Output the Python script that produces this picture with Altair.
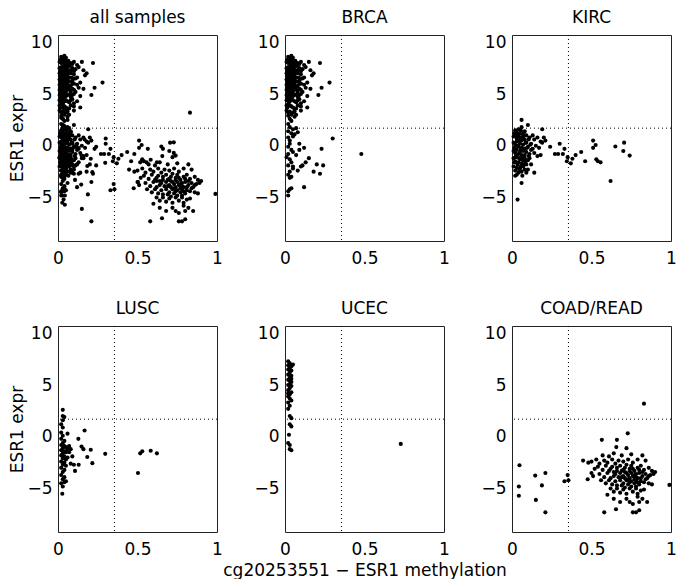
import altair as alt
import pandas as pd

# ---- data (methylation x, expression y) ----
brca = [
    (0.02, 8.6), (0.03, 8.5), (0.04, 8.7), (0.05, 8.5),
    (0.01, 8.1), (0.02, 8.0), (0.03, 8.2), (0.04, 8.0), (0.05, 8.1), (0.06, 7.9), (0.08, 8.0), (0.10, 8.1), (0.12, 7.8), (0.15, 8.1),
    (0.01, 7.5), (0.02, 7.6), (0.03, 7.4), (0.04, 7.7), (0.05, 7.5), (0.06, 7.6), (0.07, 7.3), (0.09, 7.5), (0.11, 7.4), (0.13, 7.6), (0.16, 7.3), (0.18, 7.0),
    (0.01, 7.0), (0.02, 6.9), (0.03, 7.1), (0.04, 6.8), (0.05, 7.0), (0.06, 6.7), (0.08, 7.0), (0.10, 6.9), (0.12, 6.6), (0.17, 6.8),
    (0.01, 6.4), (0.02, 6.6), (0.03, 6.3), (0.04, 6.5), (0.05, 6.2), (0.06, 6.4), (0.07, 6.6), (0.09, 6.3), (0.11, 6.5), (0.14, 6.1),
    (0.01, 5.9), (0.02, 6.0), (0.03, 5.8), (0.04, 6.1), (0.05, 5.7), (0.06, 5.9), (0.08, 5.8), (0.10, 6.0), (0.13, 5.6),
    (0.01, 5.4), (0.02, 5.5), (0.03, 5.3), (0.04, 5.6), (0.05, 5.2), (0.07, 5.4), (0.09, 5.5), (0.11, 5.2), (0.16, 5.5),
    (0.01, 4.9), (0.02, 5.0), (0.03, 4.8), (0.04, 5.1), (0.06, 4.9), (0.08, 4.7), (0.10, 5.0), (0.14, 4.8),
    (0.01, 4.4), (0.02, 4.5), (0.03, 4.3), (0.05, 4.4), (0.07, 4.2), (0.09, 4.5), (0.12, 4.3),
    (0.01, 3.9), (0.02, 4.0), (0.04, 3.8), (0.06, 3.6), (0.08, 3.9), (0.14, 3.7),
    (0.01, 3.4), (0.03, 3.3), (0.05, 3.2), (0.07, 3.0), (0.10, 3.4),
    (0.02, 2.9), (0.03, 2.6), (0.04, 2.4), (0.06, 2.8),
    (0.02, 2.1), (0.03, 1.8), (0.05, 1.6), (0.02, 1.4), (0.04, 1.2), (0.06, 1.1), (0.08, 1.3), (0.07, 1.7),
    (0.02, 0.8), (0.03, 0.5), (0.05, 0.9), (0.03, 0.2), (0.02, -0.1), (0.04, -0.4), (0.05, -0.6), (0.02, -0.8), (0.09, 0.2),
    (0.01, -1.1), (0.03, -1.3), (0.04, -1.6), (0.02, -1.9), (0.05, -2.2), (0.03, -2.5), (0.02, -2.8), (0.03, -3.1), (0.04, -3.0), (0.05, -2.0),
    (0.02, -4.4), (0.03, -4.2), (0.04, -4.1), (0.02, -4.8),
    (0.07, -0.9), (0.08, -2.4), (0.10, -2.0), (0.11, -1.9), (0.09, -0.4), (0.12, -0.2), (0.13, -1.6), (0.15, -1.2),
    (0.20, -1.8), (0.24, -1.9), (0.18, -2.5), (0.22, -2.7), (0.12, -4.0), (0.23, -0.3), (0.30, 0.7), (0.48, -0.8),
    (0.22, 8.0), (0.28, 6.1), (0.23, 5.6), (0.21, 4.9),
    (0.015, 8.3), (0.025, 8.35), (0.035, 7.85), (0.045, 8.3), (0.055, 7.7), (0.065, 8.2), (0.075, 7.7), (0.09, 7.9),
    (0.015, 7.25), (0.025, 7.2), (0.035, 7.6), (0.045, 7.3), (0.055, 7.25), (0.065, 7.0), (0.085, 7.3), (0.10, 7.2),
    (0.015, 6.7), (0.025, 6.25), (0.035, 6.9), (0.045, 6.7), (0.055, 6.5), (0.07, 6.2), (0.085, 6.6), (0.10, 6.5),
    (0.015, 6.2), (0.025, 5.75), (0.035, 6.05), (0.045, 5.9), (0.055, 6.0), (0.07, 5.7), (0.09, 6.0), (0.12, 5.9),
    (0.015, 5.65), (0.025, 5.25), (0.035, 5.55), (0.045, 5.35), (0.06, 5.5), (0.08, 5.2), (0.10, 5.4),
    (0.015, 5.1), (0.025, 4.7), (0.035, 5.05), (0.05, 4.8), (0.07, 4.95), (0.09, 4.9),
    (0.015, 4.6), (0.025, 4.2), (0.04, 4.6), (0.06, 4.3), (0.08, 4.4), (0.10, 4.1),
    (0.015, 3.7), (0.03, 3.9), (0.05, 3.7), (0.07, 3.6), (0.10, 3.8), (0.02, 3.2), (0.04, 3.0), (0.06, 3.3),
]

kirc = [
    (0.02, 1.5), (0.03, 1.3), (0.04, 1.6), (0.05, 1.2), (0.06, 1.8), (0.06, 2.5), (0.08, 1.4), (0.10, 2.0), (0.19, 1.6), (0.07, 1.1),
    (0.01, 0.9), (0.02, 1.0), (0.03, 0.7), (0.04, 1.0), (0.05, 0.8), (0.06, 0.5), (0.07, 0.9), (0.08, 0.6), (0.09, 1.0), (0.11, 0.8),
    (0.13, 1.0), (0.14, 0.6), (0.16, 0.8), (0.20, 0.8), (0.21, 0.5), (0.18, 0.4),
    (0.01, 0.3), (0.02, 0.1), (0.03, 0.4), (0.04, -0.1), (0.05, 0.2), (0.06, -0.2), (0.07, 0.1), (0.08, -0.3), (0.09, 0.3), (0.10, -0.1),
    (0.12, 0.2), (0.13, -0.3), (0.15, 0.0), (0.17, -0.2), (0.19, 0.3), (0.24, -0.1), (0.30, 0.2),
    (0.01, -0.5), (0.02, -0.7), (0.03, -0.4), (0.04, -0.8), (0.05, -0.6), (0.06, -0.9), (0.07, -0.5), (0.08, -0.9), (0.09, -0.6),
    (0.11, -0.8), (0.12, -0.4), (0.14, -0.7), (0.16, -1.0), (0.18, -0.9), (0.27, -0.8), (0.29, -0.8),
    (0.01, -1.2), (0.02, -1.5), (0.03, -1.1), (0.04, -1.6), (0.05, -1.3), (0.06, -1.7), (0.07, -1.4), (0.08, -1.2), (0.09, -1.8),
    (0.10, -1.4), (0.12, -1.8), (0.11, -1.2),
    (0.01, -2.0), (0.02, -2.4), (0.03, -2.1), (0.04, -2.6), (0.05, -2.2), (0.06, -2.5), (0.07, -2.0), (0.08, -2.3), (0.10, -2.3),
    (0.14, -2.6), (0.02, -2.9), (0.03, -2.8),
    (0.06, -3.6), (0.035, -5.2), (0.33, -0.3), (0.32, -0.8), (0.35, -1.1), (0.345, -1.5), (0.37, -1.7), (0.38, -1.25), (0.40, -0.9),
    (0.435, -0.6), (0.46, -1.5), (0.51, 0.5), (0.51, -0.2), (0.526, 0.07), (0.53, -1.3), (0.54, -1.5), (0.557, -1.6), (0.65, -0.07),
    (0.62, -3.4), (0.705, 0.3), (0.70, -0.5), (0.74, -0.95),
    (0.015, 1.2), (0.035, 1.1), (0.055, 1.5), (0.075, 1.3), (0.045, 0.5), (0.065, 0.8), (0.085, 0.3), (0.105, 0.6),
    (0.015, -0.2), (0.035, 0.0), (0.055, -0.4), (0.075, -0.3), (0.095, -0.2), (0.115, 0.1), (0.025, -1.0), (0.045, -1.2),
    (0.065, -1.1), (0.085, -1.5), (0.105, -1.0), (0.035, -1.8), (0.055, -2.0), (0.075, -1.8), (0.015, -1.6), (0.045, -2.3),
    (0.065, -2.9), (0.09, -2.6),
]

lusc = [
    (0.03, 2.6), (0.03, 2.0), (0.04, 1.9), (0.03, 1.6), (0.02, 1.2), (0.03, 0.9), (0.02, 0.4), (0.03, 0.1), (0.02, -0.2), (0.04, -0.4),
    (0.03, -0.6), (0.02, -0.8), (0.04, -0.9), (0.03, -1.1), (0.05, -1.0), (0.02, -1.3), (0.04, -1.4), (0.03, -1.6), (0.05, -1.5),
    (0.02, -1.8), (0.04, -1.9), (0.03, -2.1), (0.05, -2.2), (0.02, -2.4), (0.04, -2.5), (0.03, -2.7), (0.05, -2.8), (0.02, -3.0),
    (0.04, -3.2), (0.03, -3.4), (0.02, -3.7), (0.04, -3.9), (0.03, -4.1), (0.02, -4.5), (0.04, -4.4), (0.03, -4.8), (0.05, -4.3),
    (0.027, -5.5), (0.06, 0.3), (0.167, 0.6), (0.128, -0.2), (0.148, -0.95), (0.16, -1.2), (0.206, -1.25), (0.184, -1.95),
    (0.216, -2.55), (0.297, -1.65), (0.13, -2.7), (0.107, -3.3), (0.10, -2.7), (0.09, -1.9), (0.08, -1.2), (0.07, -1.5),
    (0.06, -2.0), (0.08, -2.6), (0.07, -0.9), (0.06, -1.2), (0.503, -3.5), (0.517, -1.6), (0.53, -1.4), (0.583, -1.35), (0.622, -1.6),
]

ucec = [
    (0.02, 7.3), (0.03, 7.1), (0.02, 6.9), (0.05, 6.97), (0.03, 6.7), (0.02, 6.5), (0.04, 6.4), (0.03, 6.2), (0.02, 6.0), (0.04, 5.9),
    (0.03, 5.7), (0.02, 5.5), (0.04, 5.3), (0.03, 5.1), (0.02, 5.0), (0.04, 4.9), (0.03, 4.7), (0.02, 4.5), (0.04, 4.3), (0.03, 4.1),
    (0.02, 3.9), (0.03, 3.7), (0.04, 3.5), (0.02, 3.3), (0.03, 3.0), (0.02, 2.7), (0.03, 2.0), (0.04, 1.8), (0.03, 1.2), (0.04, 1.0),
    (0.025, 0.2), (0.02, -0.6), (0.03, -0.8), (0.03, -1.2), (0.04, -1.3), (0.728, -0.69), (0.04, 5.6), (0.04, 6.8), (0.02, 4.2), (0.03, 5.4),
]

coad = [
    (0.565, -0.3), (0.66, -0.3), (0.656, -1.0), (0.728, 0.33), (0.72, -1.1), (0.82, -1.8), (0.57, -1.8), (0.61, -1.9), (0.75, -1.7),
    (0.64, -1.6), (0.69, -1.8),
    (0.447, -2.3), (0.48, -2.5), (0.50, -2.4), (0.53, -2.2), (0.55, -2.6), (0.58, -2.3), (0.60, -2.5), (0.63, -2.2), (0.65, -2.6),
    (0.67, -2.3), (0.70, -2.4), (0.73, -2.2), (0.76, -2.5), (0.79, -2.2), (0.84, -2.3),
    (0.50, -3.5), (0.52, -3.1), (0.54, -2.9), (0.57, -3.2), (0.59, -2.8), (0.61, -3.3), (0.63, -2.9), (0.64, -3.4), (0.66, -3.0),
    (0.68, -2.8), (0.69, -3.3), (0.71, -3.0), (0.72, -2.7), (0.74, -3.1), (0.75, -2.8), (0.77, -3.3), (0.79, -3.0), (0.81, -2.8),
    (0.83, -3.2), (0.86, -3.0), (0.88, -3.3), (0.90, -3.4),
    (0.51, -3.8), (0.55, -3.6), (0.58, -3.9), (0.60, -3.5), (0.62, -4.0), (0.65, -3.6), (0.67, -3.9), (0.68, -3.5), (0.70, -3.8),
    (0.71, -3.4), (0.73, -3.7), (0.74, -4.0), (0.75, -3.5), (0.76, -3.8), (0.78, -3.6), (0.79, -4.0), (0.80, -3.5), (0.82, -3.8),
    (0.84, -3.6), (0.85, -4.0), (0.87, -3.7), (0.89, -3.6),
    (0.476, -4.1), (0.56, -4.2), (0.59, -4.5), (0.61, -4.2), (0.63, -4.6), (0.65, -4.3), (0.66, -4.7), (0.68, -4.2), (0.70, -4.5),
    (0.72, -4.2), (0.73, -4.6), (0.75, -4.3), (0.77, -4.5), (0.78, -4.2), (0.80, -4.6), (0.81, -4.3), (0.83, -4.4), (0.86, -4.5),
    (0.88, -4.6),
    (0.60, -5.6), (0.62, -5.0), (0.64, -5.3), (0.66, -5.0), (0.68, -5.4), (0.70, -5.1), (0.72, -5.5), (0.74, -5.0), (0.76, -5.3),
    (0.78, -5.0), (0.79, -5.5), (0.81, -5.2), (0.83, -5.1),
    (0.64, -6.0), (0.68, -6.3), (0.72, -6.0), (0.74, -6.3), (0.76, -6.5), (0.80, -6.3), (0.82, -6.0), (0.85, -6.3), (0.79, -5.8),
    (0.58, -7.3), (0.654, -7.0), (0.76, -7.3), (0.78, -7.3), (0.80, -7.1),
    (0.047, -2.75), (0.043, -4.8), (0.043, -5.7), (0.146, -3.75), (0.15, -6.1), (0.188, -4.7), (0.21, -3.5), (0.21, -7.3),
    (0.33, -4.3), (0.35, -3.7), (0.355, -4.2), (0.83, 3.2), (0.99, -4.65),
    (0.66, -3.3), (0.70, -3.2), (0.72, -3.5), (0.74, -3.3), (0.76, -3.1), (0.78, -3.9), (0.80, -3.2), (0.82, -3.4),
    (0.71, -4.0), (0.74, -4.4), (0.77, -4.1), (0.79, -4.4), (0.69, -4.7), (0.84, -4.1), (0.75, -4.8), (0.78, -4.8),
    (0.71, -4.9), (0.64, -3.8), (0.62, -3.1), (0.86, -3.8), (0.81, -4.0), (0.77, -3.7), (0.69, -3.9), (0.73, -4.1),
]

panel_titles = ["all samples", "BRCA", "KIRC", "LUSC", "UCEC", "COAD/READ"]
panel_points = [brca + kirc + lusc + ucec + coad, brca, kirc, lusc, ucec, coad]
x_ticks = [0, 0.5, 1]
y_ticks = [-5, 0, 5, 10]
x_domain = [0, 1]
y_domain = [-9.2, 10.7]
x_cut = [0.355]
y_cut = [1.7]
x_title = "cg20253551 − ESR1 methylation"
y_title = "ESR1 expr"

FONT = "DejaVu Sans"


def panel(i):
    pts = pd.DataFrame(panel_points[i], columns=["x", "y"])
    show_y = i % 3 == 0
    show_x = i == 4
    xax = alt.Axis(values=x_ticks, format="~r", title=x_title if show_x else None,
                   ticks=False, domain=False, grid=False, labelFlush=False, labelOverlap=False,
                   labelPadding=9, titlePadding=5)
    yax = alt.Axis(values=y_ticks, format="d", title=y_title if show_y else None,
                   ticks=False, domain=False, grid=False, labelFlush=False, labelOverlap=False,
                   labelPadding=6, titlePadding=0)
    xs = alt.Scale(domain=x_domain, nice=False, zero=False)
    ys = alt.Scale(domain=y_domain, nice=False, zero=False)
    X = alt.X("x:Q", scale=xs, axis=xax)
    Y = alt.Y("y:Q", scale=ys, axis=yax)
    vline = alt.Chart(pd.DataFrame({"x": x_cut})).mark_rule(
        color="black", strokeDash=[1, 3], strokeWidth=1).encode(x=X)
    hline = alt.Chart(pd.DataFrame({"y": y_cut})).mark_rule(
        color="black", strokeDash=[1, 3], strokeWidth=1).encode(y=Y)
    dots = alt.Chart(pts).mark_circle(size=17, color="black", opacity=1).encode(x=X, y=Y)
    return alt.layer(vline, hline, dots).properties(
        width=159, height=206,
        title=alt.TitleParams(panel_titles[i], font=FONT, fontSize=17, fontWeight="normal",
                              color="black", offset=6, anchor="middle"),
    )


chart = alt.concat(*[panel(i) for i in range(6)], columns=3,
                   spacing=alt.RowColnumber(row=85, column=68), bounds="flush").properties(
    padding=0
).configure_view(stroke="#222222", strokeWidth=1).configure_axis(
    labelFont=FONT, labelFontSize=17, labelColor="black",
    titleFont=FONT, titleFontSize=17, titleFontWeight="normal", titleColor="black",
)

chart.save("out.html", embed_options={"renderer": "svg", "actions": False})
